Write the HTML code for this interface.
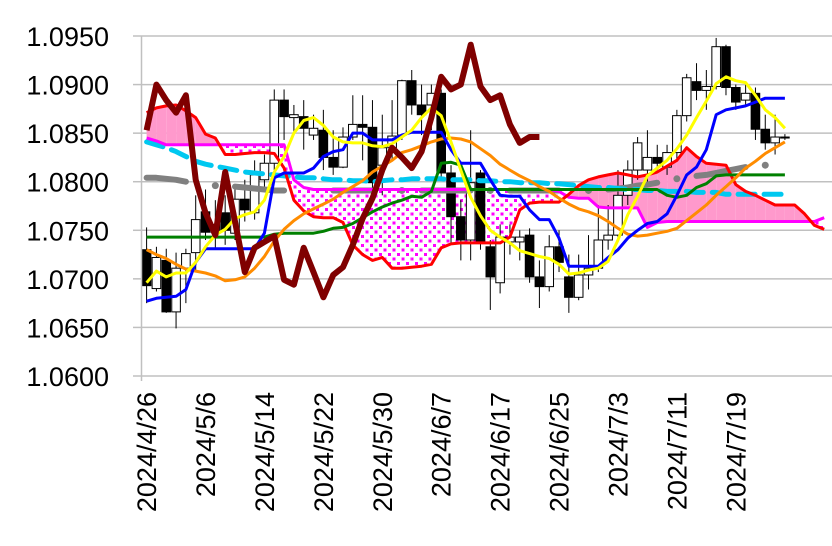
<!DOCTYPE html>
<html><head><meta charset="utf-8">
<style>
html,body{margin:0;padding:0;background:#fff;}
svg{display:block;font-family:"Liberation Sans",sans-serif;}
</style></head>
<body>
<svg id="chart" width="832" height="546" viewBox="0 0 832 546" xmlns="http://www.w3.org/2000/svg">
<defs>
<pattern id="dots" width="9" height="9" patternUnits="userSpaceOnUse">
<rect x="0" y="0" width="9" height="9" fill="#fff"/>
<rect x="1" y="1" width="3" height="3" fill="#ff00ff"/>
<rect x="5.5" y="5.5" width="3" height="3" fill="#ff00ff"/>
</pattern>
</defs>
<g id="grid"></g>
<g id="cloud"></g>
<g id="candles"></g>
<g id="lines"></g>
<g id="axes"></g>
</svg>
<script>
const dates = ["2024/4/26","2024/5/6","2024/5/14","2024/5/22","2024/5/30","2024/6/7","2024/6/17","2024/6/25","2024/7/3","2024/7/11","2024/7/19"];
const yTicks = [1.0600,1.0650,1.0700,1.0750,1.0800,1.0850,1.0900,1.0950];
const openP = [1.0730,1.0690,1.0719,1.0666,1.0711,1.0727,1.0769,1.0748,1.0768,1.0747,1.0782,1.0768,1.0802,1.0819,1.0884,1.0866,1.0867,1.0848,1.0853,1.0825,1.0815,1.0846,1.0859,1.0856,1.0817,1.0835,1.0848,1.0904,1.0879,1.0879,1.0891,1.0809,1.0764,1.0740,1.0809,1.0733,1.0696,1.0738,1.0738,1.0745,1.0702,1.0692,1.0733,1.0702,1.0681,1.0704,1.0711,1.0740,1.0745,1.0786,1.0812,1.0812,1.0825,1.0815,1.0830,1.0868,1.0903,1.0894,1.0898,1.0939,1.0897,1.0884,1.0891,1.0854,1.0840,1.0846];
const highP = [1.0753,1.0733,1.0731,1.0727,1.0731,1.0786,1.0792,1.0781,1.0786,1.0794,1.0802,1.0822,1.0828,1.0895,1.0895,1.0879,1.0884,1.0869,1.0874,1.0853,1.0856,1.0889,1.0889,1.0884,1.0869,1.0884,1.0905,1.0915,1.0900,1.0900,1.0895,1.0817,1.0781,1.0853,1.0812,1.0740,1.0756,1.0756,1.0750,1.0752,1.0719,1.0745,1.0750,1.0725,1.0725,1.0745,1.0776,1.0776,1.0812,1.0822,1.0846,1.0853,1.0838,1.0838,1.0874,1.0911,1.0922,1.0915,1.0948,1.0941,1.0900,1.0900,1.0897,1.0869,1.0869,1.0849];
const lowP = [1.0675,1.0687,1.0665,1.0649,1.0675,1.0709,1.0740,1.0730,1.0735,1.0740,1.0759,1.0761,1.0792,1.0812,1.0843,1.0848,1.0833,1.0843,1.0812,1.0807,1.0814,1.0843,1.0822,1.0792,1.0786,1.0822,1.0843,1.0869,1.0848,1.0853,1.0802,1.0735,1.0719,1.0719,1.0730,1.0668,1.0685,1.0725,1.0719,1.0696,1.0670,1.0687,1.0707,1.0665,1.0678,1.0689,1.0707,1.0730,1.0740,1.0776,1.0802,1.0800,1.0812,1.0807,1.0822,1.0862,1.0884,1.0874,1.0895,1.0889,1.0874,1.0879,1.0843,1.0833,1.0828,1.0843];
const closeP = [1.0693,1.0722,1.0666,1.0711,1.0726,1.0761,1.0748,1.0756,1.0750,1.0782,1.0771,1.0807,1.0819,1.0884,1.0867,1.0869,1.0855,1.0855,1.0825,1.0815,1.0846,1.0859,1.0856,1.0799,1.0835,1.0847,1.0904,1.0879,1.0869,1.0891,1.0809,1.0764,1.0740,1.0799,1.0738,1.0702,1.0743,1.0743,1.0743,1.0702,1.0692,1.0733,1.0717,1.0681,1.0704,1.0711,1.0740,1.0745,1.0786,1.0812,1.0840,1.0825,1.0819,1.0830,1.0868,1.0907,1.0894,1.0898,1.0939,1.0897,1.0882,1.0891,1.0854,1.0840,1.0846,1.0846];
const tenkan = [1.0677,1.0680,1.0681,1.0682,1.0689,1.0717,1.0731,1.0731,1.0731,1.0731,1.0731,1.0731,1.0747,1.0804,1.0809,1.0809,1.0809,1.0814,1.0826,1.0831,1.0833,1.0850,1.0850,1.0843,1.0843,1.0843,1.0848,1.0851,1.0851,1.0851,1.0851,1.0833,1.0819,1.0819,1.0819,1.0802,1.0786,1.0785,1.0785,1.0771,1.0761,1.0761,1.0742,1.0713,1.0713,1.0713,1.0713,1.0722,1.0730,1.0742,1.0750,1.0757,1.0759,1.0767,1.0786,1.0807,1.0815,1.0833,1.0869,1.0874,1.0876,1.0878,1.0882,1.0886,1.0886,1.0886];
const kijun = [1.0743,1.0743,1.0743,1.0743,1.0743,1.0743,1.0743,1.0743,1.0743,1.0743,1.0743,1.0743,1.0743,1.0746,1.0747,1.0747,1.0747,1.0747,1.0749,1.0752,1.0753,1.0757,1.0763,1.0769,1.0774,1.0778,1.0781,1.0785,1.0784,1.0790,1.0819,1.0820,1.0817,1.0792,1.0792,1.0792,1.0792,1.0792,1.0792,1.0792,1.0792,1.0792,1.0792,1.0792,1.0792,1.0792,1.0792,1.0792,1.0792,1.0792,1.0792,1.0792,1.0792,1.0786,1.0784,1.0786,1.0794,1.0798,1.0806,1.0807,1.0807,1.0807,1.0807,1.0807,1.0807,1.0807];
const ma5 = [1.0696,1.0708,1.0702,1.0706,1.0706,1.0717,1.0733,1.0745,1.0751,1.0762,1.0766,1.0769,1.0781,1.0810,1.0826,1.0850,1.0863,1.0866,1.0858,1.0846,1.0841,1.0840,1.0840,1.0837,1.0836,1.0839,1.0846,1.0853,1.0866,1.0876,1.0868,1.0841,1.0812,1.0784,1.0765,1.0750,1.0743,1.0737,1.0729,1.0726,1.0723,1.0721,1.0715,1.0705,1.0706,1.0709,1.0711,1.0718,1.0740,1.0766,1.0785,1.0806,1.0814,1.0822,1.0834,1.0848,1.0866,1.0883,1.0901,1.0908,1.0904,1.0902,1.0889,1.0874,1.0866,1.0855];
const ma25 = [1.0730,1.0725,1.0721,1.0715,1.0710,1.0708,1.0706,1.0703,1.0698,1.0699,1.0702,1.0711,1.0723,1.0739,1.0751,1.0760,1.0767,1.0772,1.0777,1.0782,1.0789,1.0795,1.0801,1.0810,1.0816,1.0822,1.0830,1.0833,1.0837,1.0841,1.0844,1.0845,1.0844,1.0841,1.0834,1.0827,1.0818,1.0812,1.0806,1.0801,1.0795,1.0790,1.0783,1.0777,1.0772,1.0769,1.0765,1.0759,1.0752,1.0746,1.0744,1.0745,1.0747,1.0749,1.0752,1.0760,1.0768,1.0776,1.0786,1.0795,1.0804,1.0814,1.0821,1.0829,1.0835,1.0841];
const ma75 = [1.0841,1.0838,1.0835,1.0831,1.0826,1.0821,1.0818,1.0816,1.0814,1.0812,1.0810,1.0809,1.0808,1.0807,1.0806,1.0805,1.0804,1.0804,1.0803,1.0802,1.0802,1.0801,1.0801,1.0800,1.0801,1.0802,1.0802,1.0803,1.0803,1.0803,1.0803,1.0802,1.0802,1.0802,1.0801,1.0801,1.0800,1.0800,1.0799,1.0799,1.0799,1.0798,1.0798,1.0797,1.0796,1.0795,1.0794,1.0794,1.0793,1.0792,1.0792,1.0791,1.0791,1.0790,1.0790,1.0790,1.0789,1.0789,1.0789,1.0787,1.0787,1.0787,1.0787,1.0787,1.0787,1.0787];
const ma200 = [1.0804,1.0804,1.0803,1.0802,1.0800,null,null,1.0796,null,1.0795,1.0794,1.0793,1.0792,1.0791,1.0791,null,null,null,null,1.0791,1.0791,1.0791,1.0791,1.0791,null,null,1.0791,null,1.0791,1.0791,1.0791,1.0791,1.0791,1.0791,null,1.0791,null,1.0791,1.0791,1.0791,1.0791,1.0791,1.0791,null,null,1.0791,null,1.0792,1.0793,1.0794,1.0796,1.0797,1.0799,null,1.0803,null,1.0806,1.0807,1.0809,1.0811,1.0813,1.0815,null,1.0817,null,null];
const senkouA = [1.0871,1.0876,1.0878,1.0879,1.0873,1.0866,1.0849,1.0845,1.0828,1.0828,1.0829,1.0830,1.0830,1.0829,1.0814,1.0781,1.0770,1.0764,1.0763,1.0763,1.0758,1.0735,1.0725,1.0719,1.0722,1.0711,1.0711,1.0712,1.0713,1.0715,1.0732,1.0736,1.0737,1.0737,1.0737,1.0737,1.0737,1.0743,1.0771,1.0778,1.0779,1.0779,1.0779,1.0787,1.0796,1.0802,1.0805,1.0807,1.0809,1.0807,1.0805,1.0807,1.0810,1.0816,1.0822,1.0835,1.0826,1.0819,1.0818,1.0817,1.0797,1.0790,1.0786,1.0781,1.0776,1.0776,1.0776,1.0767,1.0755,1.0751];
const senkouB = [1.0845,1.0842,1.0838,1.0838,1.0838,1.0838,1.0838,1.0838,1.0838,1.0838,1.0838,1.0838,1.0838,1.0838,1.0838,1.0802,1.0794,1.0792,1.0792,1.0792,1.0792,1.0792,1.0792,1.0792,1.0792,1.0792,1.0792,1.0792,1.0792,1.0792,1.0792,1.0792,1.0792,1.0792,1.0792,1.0792,1.0792,1.0792,1.0792,1.0792,1.0792,1.0792,1.0790,1.0784,1.0783,1.0783,1.0774,1.0773,1.0773,1.0773,1.0773,1.0753,1.0758,1.0759,1.0759,1.0759,1.0759,1.0759,1.0759,1.0759,1.0759,1.0759,1.0759,1.0759,1.0759,1.0759,1.0759,1.0759,1.0759,1.0763];
const chikou = [1.0853,1.0900,1.0884,1.0871,1.0889,1.0802,1.0768,1.0745,1.0810,1.0759,1.0707,1.0732,1.0738,1.0744,1.0699,1.0694,1.0732,1.0707,1.0681,1.0704,1.0712,1.0735,1.0762,1.0783,1.0812,1.0835,1.0825,1.0814,1.0831,1.0866,1.0908,1.0895,1.0900,1.0941,1.0898,1.0884,1.0889,1.0859,1.0840,1.0846,1.0846];

const NS="http://www.w3.org/2000/svg";
const X0=146.6, STEP=9.82, PLOT_L=141.5, PLOT_R=832, PLOT_B=376;
function xs(i){return X0+STEP*i;}
function ys(p){return 376-(p-1.06)*(340/0.035);}
function mk(tag,attrs,parent){const e=document.createElementNS(NS,tag);for(const k in attrs)e.setAttribute(k,attrs[k]);parent.appendChild(e);return e;}

const grid=document.getElementById('grid');
const axes=document.getElementById('axes');
yTicks.forEach((v,k)=>{
  if(k>0){
    const ln=mk('line',{x1:PLOT_L,x2:PLOT_R,y1:ys(v),y2:ys(v),stroke:'#c0c0c0','stroke-width':1.5},grid);
    
    
  }
  const tk=mk('line',{x1:133,x2:PLOT_L,y1:ys(v),y2:ys(v),stroke:'#c0c0c0','stroke-width':1.5},axes);
  
  
  const t=mk('text',{x:109,y:ys(v)+10,'text-anchor':'end','font-size':27,fill:'#000'},axes);
  t.textContent=v.toFixed(4);
  
  
});
const yAxis=mk('line',{x1:PLOT_L,x2:PLOT_L,y1:36,y2:381,stroke:'#c0c0c0','stroke-width':1.5},axes);


const xAxis=mk('line',{x1:PLOT_L,x2:PLOT_R,y1:PLOT_B,y2:PLOT_B,stroke:'#c0c0c0','stroke-width':1.5},axes);


dates.forEach((d,k)=>{
  const x=xs(k*6);
  const t=mk('text',{x:0,y:0,transform:`translate(${x+9.5},392) rotate(-90)`,'text-anchor':'end','font-size':27,fill:'#000'},axes);
  t.textContent=d;
  
  
});

const cloud=document.getElementById('cloud');
function poly(pts,fill){
  const p=mk('polygon',{points:pts.map(q=>q[0].toFixed(1)+','+q[1].toFixed(1)).join(' '),fill:fill,stroke:'none'},cloud);
  
  
}
for(let i=0;i<senkouA.length-1;i++){
  const x1=xs(i),x2=xs(i+1);
  const a1=senkouA[i],a2=senkouA[i+1],b1=senkouB[i],b2=senkouB[i+1];
  const d1=a1-b1,d2=a2-b2;
  if(d1*d2>=0){
    const up=(d1+d2)>=0;
    poly([[x1,ys(a1)],[x2,ys(a2)],[x2,ys(b2)],[x1,ys(b1)]],up?'#ff99cc':'url(#dots)');
  }else{
    const t=d1/(d1-d2);
    const xm=x1+(x2-x1)*t, pm=a1+(a2-a1)*t;
    poly([[x1,ys(a1)],[xm,ys(pm)],[x1,ys(b1)]],d1>0?'#ff99cc':'url(#dots)');
    poly([[xm,ys(pm)],[x2,ys(a2)],[x2,ys(b2)]],d2>0?'#ff99cc':'url(#dots)');
  }
}

const cg=document.getElementById('candles');
for(let i=0;i<openP.length;i++){
  const x=xs(i);
  const w=mk('line',{x1:x,x2:x,y1:ys(highP[i]),y2:ys(lowP[i]),stroke:'#000','stroke-width':1},cg);
  
  
  const top=Math.min(ys(openP[i]),ys(closeP[i])), bot=Math.max(ys(openP[i]),ys(closeP[i]));
  const up=closeP[i]>=openP[i];
  const r=mk('rect',{x:x-4.3,y:top,width:8.6,height:Math.max(1,bot-top),fill:up?'#fff':'#000',stroke:'#000','stroke-width':1},cg);
  
  
}

const lg=document.getElementById('lines');
function series(arr,color,width,name,extra){
  let d='';let pen=false;
  arr.forEach((v,i)=>{
    if(v===null||v===undefined){pen=false;return;}
    d+=(pen?'L':'M')+xs(i).toFixed(1)+','+ys(v).toFixed(1);
    pen=true;
  });
  const attrs={d:d,fill:'none',stroke:color,'stroke-width':width,'stroke-linejoin':'round'};
  if(extra)Object.assign(attrs,extra);
  const p=mk('path',attrs,lg);
  
  
  return p;
}
series(ma200,'#808080',6,'ma200-line',{'stroke-linecap':'round'});
ma200.forEach((v,i)=>{
  if(v!==null && (i===0||ma200[i-1]===null) && (i===ma200.length-1||ma200[i+1]===null)){
    const c=mk('circle',{cx:xs(i),cy:ys(v),r:3.5,fill:'#808080'},lg);
    
    
  }
});
series(ma75,'#00c8f0',5,'ma75-line',{'stroke-dasharray':'17 9','stroke-linecap':'round'});
series(senkouB,'#ff00ff',3,'senkou-span-b');
series(senkouA,'#ff0000',3,'senkou-span-a');
series(kijun,'#008000',3,'kijun-sen');
series(ma25,'#ff8c00',3,'ma25-line');
series(tenkan,'#0000ff',3,'tenkan-sen');
series(ma5,'#ffff00',3,'ma5-line');
series(chikou,'#800000',6,'chikou-span');
</script>
</body></html>
